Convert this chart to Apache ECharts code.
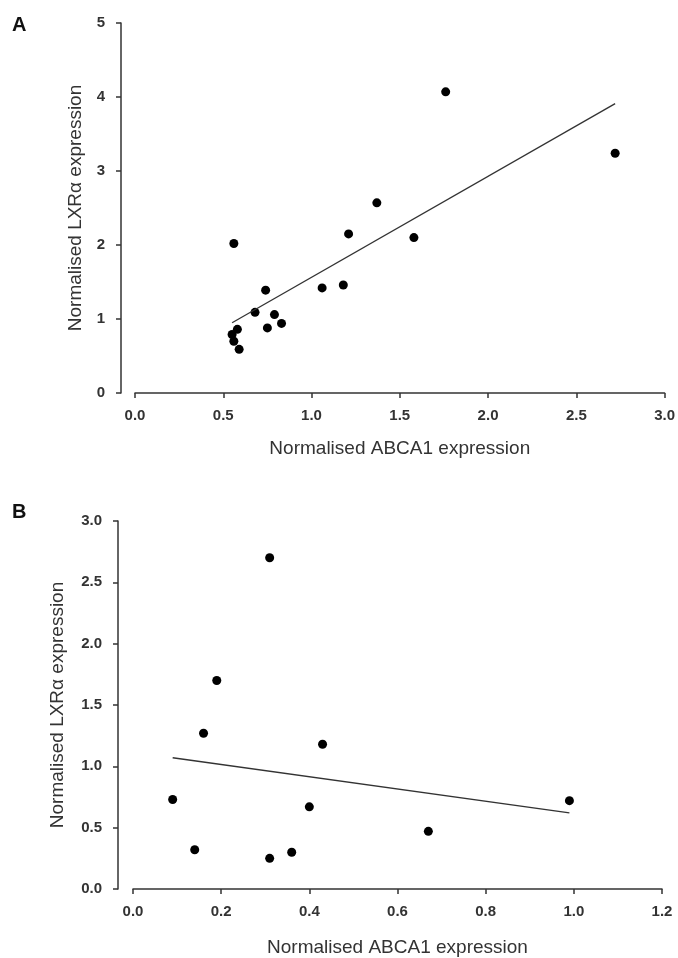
<!DOCTYPE html>
<html>
<head>
<meta charset="utf-8">
<script src="https://cdn.jsdelivr.net/npm/echarts@6/dist/echarts.min.js"></script>
<style>
  html, body { margin: 0; padding: 0; background: #fff; }
  #chart { width: 678px; height: 958px; }
</style>
</head>
<body>
<div id="chart"></div>
<script>
// Panel A: ABCA1 vs LXRa (x, y)
const pointsA = [
  [0.56, 2.02], [1.76, 4.07], [2.72, 3.24], [1.37, 2.57], [1.21, 2.15],
  [1.58, 2.10], [0.74, 1.39], [1.06, 1.42], [1.18, 1.46], [0.68, 1.09],
  [0.79, 1.06], [0.83, 0.94], [0.75, 0.88], [0.58, 0.86], [0.55, 0.79],
  [0.56, 0.70], [0.59, 0.59]
];
const fitA = [[0.55, 0.95], [2.72, 3.91]];

// Panel B
const pointsB = [
  [0.31, 2.70], [0.19, 1.70], [0.16, 1.27], [0.43, 1.18], [0.09, 0.73],
  [0.99, 0.72], [0.40, 0.67], [0.67, 0.47], [0.14, 0.32], [0.31, 0.25],
  [0.36, 0.30]
];
const fitB = [[0.09, 1.07], [0.99, 0.62]];

const xTitle = "Normalised ABCA1 expression";
const yTitle = "Normalised LXR\u03b1 expression";

const font = "'Liberation Sans', Arial, sans-serif";
const ink = "#333";

// axis line stays where offset puts it, not on the other axis's zero
const axisLine = { onZero: false, lineStyle: { color: ink, width: 1.5 } };
const axisTick = { inside: false, length: 5, lineStyle: { color: ink, width: 1.5 } };
const tickLabel = (digits, margin) => ({
  fontFamily: font,
  fontSize: 15,
  fontWeight: "bold",
  color: ink,
  margin: margin,
  formatter: (v) => v.toFixed(digits),
});
const nameStyle = { fontFamily: font, fontSize: 19, color: ink };
const dot = { color: "#000", opacity: 1 };

const chart = echarts.init(document.getElementById("chart"), null, { renderer: "canvas" });

chart.setOption({
  backgroundColor: "#fff",
  animation: false,
  graphic: [
    { type: "text", left: 12, top: 15, style: { text: "A", font: "bold 20px " + font, fill: "#111" } },
    { type: "text", left: 12, top: 502, style: { text: "B", font: "bold 20px " + font, fill: "#111" } },
  ],
  grid: [
    { left: 135, top: 23, width: 530, height: 370 },
    { left: 133, top: 521, width: 529, height: 372 },
  ],
  xAxis: [
    {
      gridIndex: 0, type: "value", min: 0, max: 3, interval: 0.5,
      axisLine, axisTick, splitLine: { show: false },
      axisLabel: tickLabel(1, 15),
      name: xTitle, nameLocation: "middle", nameGap: 46, nameTextStyle: nameStyle,
    },
    {
      gridIndex: 1, type: "value", min: 0, max: 1.2, interval: 0.2,
      axisLine, axisTick, splitLine: { show: false },
      axisLabel: tickLabel(1, 15),
      name: xTitle, nameLocation: "middle", nameGap: 49, nameTextStyle: nameStyle,
    },
  ],
  yAxis: [
    {
      gridIndex: 0, type: "value", min: 0, max: 5, interval: 1, offset: 14,
      axisLine, axisTick, splitLine: { show: false },
      axisLabel: tickLabel(0, 16),
      name: yTitle, nameLocation: "middle", nameGap: 34, nameTextStyle: nameStyle,
    },
    {
      gridIndex: 1, type: "value", min: 0, max: 3, interval: 0.5, offset: 15,
      axisLine, axisTick, splitLine: { show: false },
      axisLabel: tickLabel(1, 16),
      name: yTitle, nameLocation: "middle", nameGap: 51, nameTextStyle: nameStyle,
    },
  ],
  series: [
    {
      type: "scatter", xAxisIndex: 0, yAxisIndex: 0, data: pointsA,
      symbol: "circle", symbolSize: 9, itemStyle: dot,
    },
    {
      type: "line", xAxisIndex: 0, yAxisIndex: 0, data: fitA,
      showSymbol: false, lineStyle: { color: "#333", width: 1.3 },
    },
    {
      type: "scatter", xAxisIndex: 1, yAxisIndex: 1, data: pointsB,
      symbol: "circle", symbolSize: 9, itemStyle: dot,
    },
    {
      type: "line", xAxisIndex: 1, yAxisIndex: 1, data: fitB,
      showSymbol: false, lineStyle: { color: "#333", width: 1.3 },
    },
  ],
});
</script>
</body>
</html>
